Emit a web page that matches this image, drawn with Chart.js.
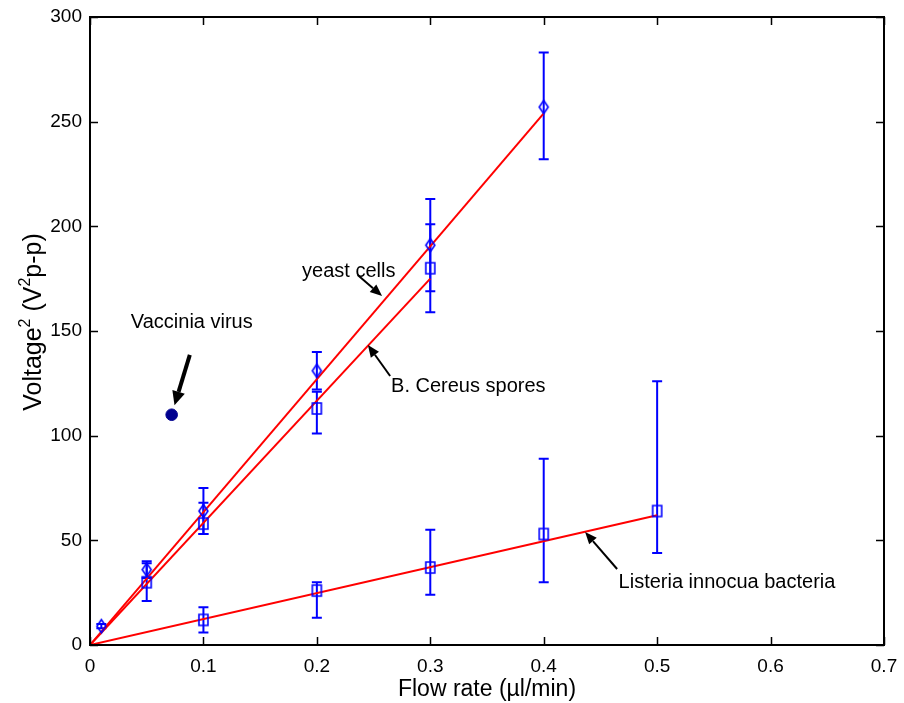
<!DOCTYPE html>
<html><head><meta charset="utf-8">
<script src="https://cdn.jsdelivr.net/npm/chart.js@4"></script>
<style>html,body{margin:0;padding:0;background:#fff}#wrap{width:904px;height:703px}</style>
</head><body><div id="wrap"><canvas id="c" width="904" height="703"></canvas></div>
<script>
// ---- data ----
const yeastX = [0.01, 0.05, 0.1, 0.2, 0.3, 0.4];
const yeastY = [9, 36, 64, 131, 191, 257];
const yeastErrLo = [1, 4, 11, 9, 22, 25];
const yeastErrHi = [1, 4, 11, 9, 22, 26];

const sporesX = [0.05, 0.1, 0.2, 0.3];
const sporesY = [30, 58, 113, 180];
const sporesErrLo = [9, 5, 12, 21];
const sporesErrHi = [9, 10, 8, 21];

const listeriaX = [0.1, 0.2, 0.3, 0.4, 0.5];
const listeriaY = [12, 26, 37, 53, 64];
const listeriaErrLo = [6, 13, 13, 23, 20];
const listeriaErrHi = [6, 4, 18, 36, 62];

const vacciniaX = [0.072];
const vacciniaY = [110];

const yeastFitX = [0, 0.4];
const yeastFitY = [0, 254];
const sporesFitX = [0, 0.3];
const sporesFitY = [0, 175];
const listeriaFitX = [0, 0.5];
const listeriaFitY = [0, 62];

const xTickLabels = ['0', '0.1', '0.2', '0.3', '0.4', '0.5', '0.6', '0.7'];
const yTickLabels = ['0', '50', '100', '150', '200', '250', '300'];

const annotations = [
  {text: 'Vaccinia virus', tx: 0.036, ty: 154, ax0: 0.088, ay0: 138.6, ax1: 0.0745, ay1: 114.5, w: 4},
  {text: 'yeast cells', tx: 0.187, ty: 178.2, ax0: 0.236, ay0: 176.8, ax1: 0.2575, ay1: 166.7, w: 2},
  {text: 'B. Cereus spores', tx: 0.2654, ty: 123.3, ax0: 0.2646, ay0: 128.5, ax1: 0.245, ay1: 143.3, w: 2},
  {text: 'Listeria innocua bacteria', tx: 0.466, ty: 30.1, ax0: 0.4647, ay0: 36.3, ax1: 0.4365, ay1: 54, w: 2}
];

const FONT = '"Liberation Sans", Arial, sans-serif';
const pts = (xs, ys) => xs.map((x, i) => ({x: x, y: ys[i]}));
const BLUE = '#0000ff';
const RED = '#ff0000';

function makeMarker(kind, w, h) {
  const c = document.createElement('canvas');
  c.width = w + 4; c.height = h + 4;
  const g = c.getContext('2d');
  g.strokeStyle = BLUE; g.lineWidth = 1.6;
  const cx = c.width / 2, cy = c.height / 2;
  g.beginPath();
  if (kind === 'diamond') {
    g.moveTo(cx, cy - h / 2); g.lineTo(cx + w / 2, cy); g.lineTo(cx, cy + h / 2); g.lineTo(cx - w / 2, cy); g.closePath();
  } else {
    g.rect(cx - w / 2, cy - h / 2, w, h);
  }
  g.stroke();
  return c;
}
const diamondImg = makeMarker('diamond', 9, 13);
const squareImg = makeMarker('square', 9, 11);

const errorSets = [
  {xs: yeastX, ys: yeastY, lo: yeastErrLo, hi: yeastErrHi},
  {xs: sporesX, ys: sporesY, lo: sporesErrLo, hi: sporesErrHi},
  {xs: listeriaX, ys: listeriaY, lo: listeriaErrLo, hi: listeriaErrHi}
];

const errorBarPlugin = {
  id: 'errbars',
  beforeDatasetsDraw(chart) {
    const ctx = chart.ctx, xs = chart.scales.x, ys = chart.scales.y;
    ctx.save();
    ctx.strokeStyle = BLUE; ctx.lineWidth = 2;
    errorSets.forEach(s => {
      s.xs.forEach((x, i) => {
        const px = xs.getPixelForValue(x);
        const top = ys.getPixelForValue(s.ys[i] + s.hi[i]);
        const bot = ys.getPixelForValue(s.ys[i] - s.lo[i]);
        ctx.beginPath();
        ctx.moveTo(px, top); ctx.lineTo(px, bot);
        ctx.moveTo(px - 5, top); ctx.lineTo(px + 5, top);
        ctx.moveTo(px - 5, bot); ctx.lineTo(px + 5, bot);
        ctx.stroke();
      });
    });
    ctx.restore();
  }
};

const frameAnnotPlugin = {
  id: 'frameannot',
  afterDraw(chart) {
    const ctx = chart.ctx, xs = chart.scales.x, ys = chart.scales.y, a = chart.chartArea;
    ctx.save();
    // box
    ctx.strokeStyle = '#000'; ctx.lineWidth = 2;
    ctx.strokeRect(a.left, a.top, a.right - a.left, a.bottom - a.top);
    // inward ticks
    ctx.lineWidth = 1.5;
    ctx.beginPath();
    xs.ticks.forEach(t => {
      const px = Math.round(xs.getPixelForValue(t.value)) + 0.5;
      ctx.moveTo(px, a.bottom); ctx.lineTo(px, a.bottom - 8);
      ctx.moveTo(px, a.top); ctx.lineTo(px, a.top + 8);
    });
    ys.ticks.forEach(t => {
      const py = Math.round(ys.getPixelForValue(t.value)) + 0.5;
      ctx.moveTo(a.left, py); ctx.lineTo(a.left + 8, py);
      ctx.moveTo(a.right, py); ctx.lineTo(a.right - 8, py);
    });
    ctx.stroke();
    // y-axis title with superscripts
    ctx.fillStyle = '#000';
    ctx.save();
    ctx.translate(41, (a.top + a.bottom) / 2 - 9);
    ctx.rotate(-Math.PI / 2);
    ctx.textBaseline = 'alphabetic';
    const parts = [['Voltage', 25, 0], ['2', 16, -11], [' (V', 25, 0], ['2', 16, -11], ['p-p)', 25, 0]];
    let total = 0;
    parts.forEach(p => { ctx.font = p[1] + 'px ' + FONT; total += ctx.measureText(p[0]).width; });
    let cx = -total / 2;
    parts.forEach(p => {
      ctx.font = p[1] + 'px ' + FONT;
      ctx.textAlign = 'left';
      ctx.fillText(p[0], cx, p[2]);
      cx += ctx.measureText(p[0]).width;
    });
    ctx.restore();
    // annotations
    ctx.font = '20px ' + FONT;
    ctx.textBaseline = 'middle'; ctx.textAlign = 'left';
    annotations.forEach(an => {
      ctx.fillText(an.text, xs.getPixelForValue(an.tx), ys.getPixelForValue(an.ty));
      const x0 = xs.getPixelForValue(an.ax0), y0 = ys.getPixelForValue(an.ay0);
      const x1 = xs.getPixelForValue(an.ax1), y1 = ys.getPixelForValue(an.ay1);
      const ang = Math.atan2(y1 - y0, x1 - x0);
      const hl = an.w > 3 ? 14 : 12, hw = an.w > 3 ? 6.5 : 5;
      const bx = x1 - hl * Math.cos(ang), by = y1 - hl * Math.sin(ang);
      ctx.strokeStyle = '#000'; ctx.lineWidth = an.w;
      ctx.beginPath(); ctx.moveTo(x0, y0); ctx.lineTo(bx, by); ctx.stroke();
      ctx.beginPath();
      ctx.moveTo(x1, y1);
      ctx.lineTo(bx + hw * Math.sin(ang), by - hw * Math.cos(ang));
      ctx.lineTo(bx - hw * Math.sin(ang), by + hw * Math.cos(ang));
      ctx.closePath(); ctx.fill();
    });
    ctx.restore();
  }
};

const fitDs = (xs, ys) => ({type: 'line', data: pts(xs, ys), borderColor: RED, borderWidth: 2,
  pointRadius: 0, showLine: true, fill: false, order: 2});

new Chart(document.getElementById('c'), {
  type: 'scatter',
  data: {
    datasets: [
      fitDs(yeastFitX, yeastFitY),
      fitDs(sporesFitX, sporesFitY),
      fitDs(listeriaFitX, listeriaFitY),
      {label: 'yeast', data: pts(yeastX, yeastY), pointStyle: diamondImg, pointRadius: 6, order: 1},
      {label: 'spores', data: pts(sporesX, sporesY), pointStyle: squareImg, pointRadius: 6, order: 1},
      {label: 'listeria', data: pts(listeriaX, listeriaY), pointStyle: squareImg, pointRadius: 6, order: 1},
      {label: 'vaccinia', data: pts(vacciniaX, vacciniaY), pointStyle: 'circle', pointRadius: 5.8,
        borderColor: '#00008f', backgroundColor: '#00008f', pointBorderWidth: 1, order: 1}
    ]
  },
  options: {
    responsive: false, animation: false, devicePixelRatio: 1,
    layout: {padding: {left: 0, right: 20, top: 17, bottom: 0}},
    plugins: {legend: {display: false}, tooltip: {enabled: false}},
    scales: {
      x: {
        type: 'linear', min: 0, max: 0.7,
        afterFit(s) { s.height = 58; s.paddingLeft = 0; s.paddingRight = 0; },
        afterBuildTicks(s) { s.ticks = xTickLabels.map(l => ({value: parseFloat(l)})); },
        grid: {display: false, drawTicks: false}, border: {display: false},
        ticks: {color: '#000', font: {size: 19, family: FONT}, padding: 10,
          maxRotation: 0, autoSkip: false,
          callback: (v, i) => xTickLabels[i]},
        title: {display: true, text: 'Flow rate (\u00b5l/min)', color: '#000',
          font: {size: 23, family: FONT}, padding: {top: 0, bottom: 0}}
      },
      y: {
        type: 'linear', min: 0, max: 300,
        afterFit(s) { s.width = 90; s.paddingTop = 0; s.paddingBottom = 0; },
        afterBuildTicks(s) { s.ticks = yTickLabels.map(l => ({value: parseFloat(l)})); },
        grid: {display: false, drawTicks: false}, border: {display: false},
        ticks: {color: '#000', font: {size: 19, family: FONT}, padding: 8,
          autoSkip: false, callback: (v, i) => yTickLabels[i]},
        title: {display: false}
      }
    }
  },
  plugins: [errorBarPlugin, frameAnnotPlugin]
});
</script>
</body></html>
